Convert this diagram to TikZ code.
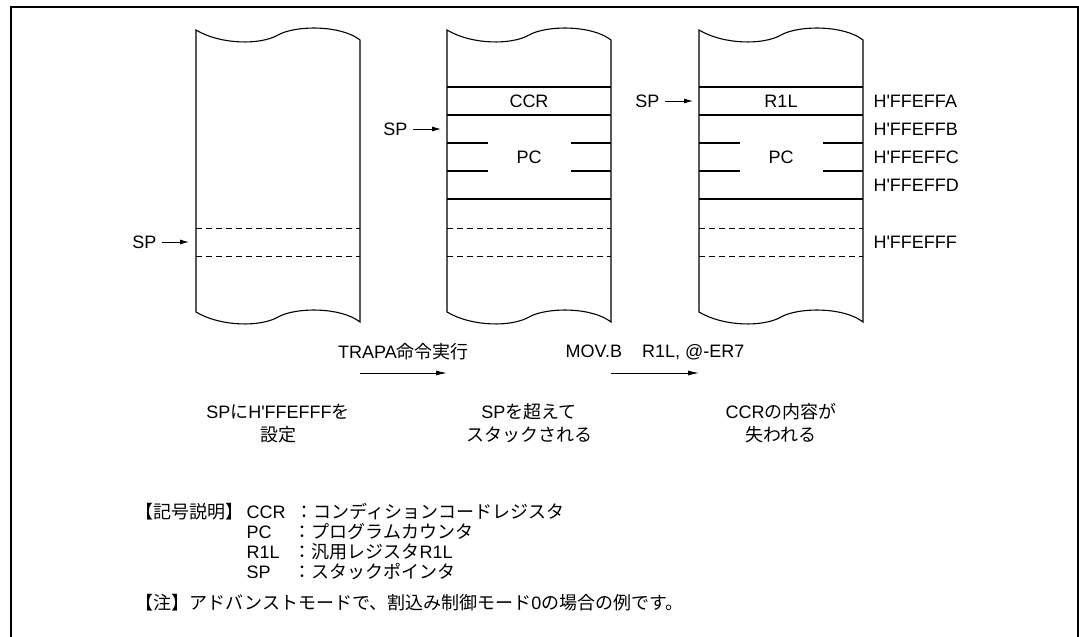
\documentclass[tikz,border=0pt]{standalone}
\usepackage{fontspec}
\setmainfont{Liberation Sans}
\newfontfamily\jp{Noto Sans CJK JP}
\usetikzlibrary{arrows.meta}
\newcommand{\hq}{\textquotesingle}

\begin{document}
\begin{tikzpicture}[x=1pt, y=-1pt, line width=1.1pt,
    every node/.style={inner sep=0pt, font=\fontsize{18}{23}\selectfont},
    dashrow/.style={line width=0.9pt, dash pattern=on 6pt off 4pt},
    spptr/.style={line width=0.9pt, -{Latex[length=9pt,width=5pt]}, shorten <=5pt},
    stepptr/.style={line width=0.9pt, -{Latex[length=11pt,width=5pt]}},
    addr/.style={anchor=west},
    legend/.style={anchor=west}]
    \useasboundingbox (0,0) rectangle (1079,637);
    % Marco
    \draw[line width=1.4pt] (11,637) -- (11,7) -- (1078,7) -- (1078,637);
    % Pilas
    \foreach \cx in {196,447,699} {
        \draw (\cx,30) .. controls (\cx+25,45) and (\cx+65,45) .. (\cx+82,35)
            .. controls (\cx+100,25) and (\cx+145,25) .. (\cx+164,40)
            -- (\cx+164,322) .. controls (\cx+145,307) and (\cx+100,307) .. (\cx+82,317)
            .. controls (\cx+65,327) and (\cx+25,327) .. (\cx,312) -- cycle;
        \draw[dashrow] (\cx,228) -- (\cx+164,228);
        \draw[dashrow] (\cx,256) -- (\cx+164,256);
    }
    % Filas
    \foreach \cx in {447,699} {
        \foreach \ry in {87,115,199}
            \draw (\cx,\ry) -- (\cx+164,\ry);
        \foreach \ry in {143,171} {
            \draw (\cx,\ry) -- (\cx+41,\ry);
            \draw (\cx+124,\ry) -- (\cx+164,\ry);
        }
    }
    % Contenido
    \node (ccr) at (529,101) {CCR};
    \node (pc2) at (529,157) {PC};
    \node (r1l) at (781,101) {R1L};
    \node (pc3) at (781,157) {PC};
    % Direcciones
    \node[addr] (adra) at (873,101) {H\hq FFEFFA};
    \node[addr] (adrb) at (873,129) {H\hq FFEFFB};
    \node[addr] (adrc) at (873,157) {H\hq FFEFFC};
    \node[addr] (adrd) at (873,185) {H\hq FFEFFD};
    \node[addr] (adrf) at (873,242) {H\hq FFEFFF};
    % Punteros SP
    \node[anchor=east] (sp1) at (157,242) {SP};
    \node[anchor=east] (sp2) at (408,129) {SP};
    \node[anchor=east] (sp3) at (660,101) {SP};
    \coordinate (tip1) at (189,242);
    \coordinate (tip2) at (441,129);
    \coordinate (tip3) at (693,101);
    \draw[spptr] (sp1) -- (tip1);
    \draw[spptr] (sp2) -- (tip2);
    \draw[spptr] (sp3) -- (tip3);
    % Transiciones
    \coordinate (c1e) at (360,373);
    \coordinate (c2w) at (447,373);
    \coordinate (c2e) at (611,373);
    \coordinate (c3w) at (699,373);
    \draw[stepptr] (c1e) -- (c2w);
    \draw[stepptr] (c2e) -- (c3w);
    \node (trapa) at (403.5,352) {TRAPA{\jp 命令実行}};
    \node (movb) at (655,352) {MOV.B\hspace{15pt} R1L, @-ER7};
    % Leyendas de los pasos
    \node[align=center] (cap1) at (278,423.5) {SP{\jp に}H\hq FFEFFF{\jp を}\\{\jp 設定}};
    \node[align=center] (cap2) at (529,423.5) {SP{\jp を超えて}\\{\jp スタックされる}};
    \node[align=center] (cap3) at (781,423.5) {CCR{\jp の内容が}\\{\jp 失われる}};
    % Explicacion de simbolos
    \node[legend] (lgd) at (135,512) {\jp 【記号説明】};
    \node[legend] (kccr) at (246,512) {CCR};
    \node[legend] (kpc) at (246,532) {PC};
    \node[legend] (kr1l) at (246,552) {R1L};
    \node[legend] (ksp) at (246,572) {SP};
    \node[legend] (dccr) at (295,512) {\jp ：コンディションコードレジスタ};
    \node[legend] (dpc) at (293,532) {\jp ：プログラムカウンタ};
    \node[legend] (dr1l) at (293,552) {{\jp ：汎用レジスタ}R1L};
    \node[legend] (dsp) at (293,572) {\jp ：スタックポインタ};
    \node[legend] (nota) at (135,603)
        {{\jp 【注】アドバンストモードで、割込み制御モード}0{\jp の場合の例です。}};
\end{tikzpicture}
\end{document}
